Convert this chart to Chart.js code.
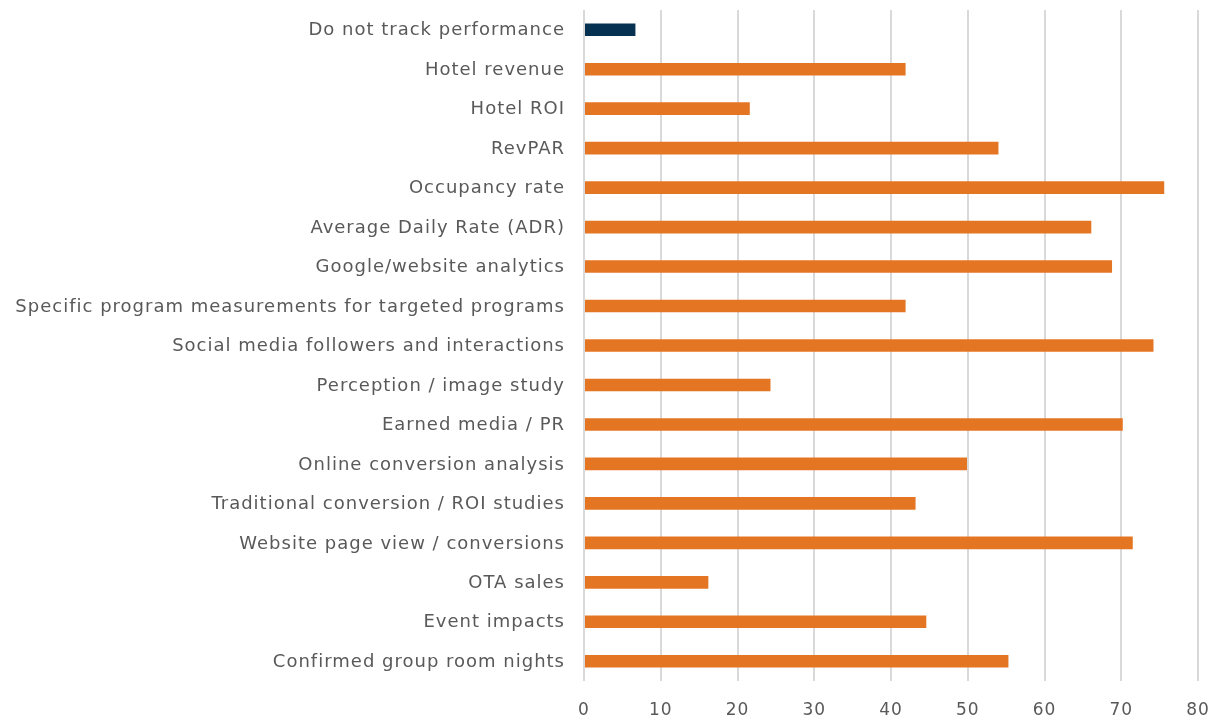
<!DOCTYPE html>
<html>
<head>
<meta charset="utf-8">
<script src="https://cdn.jsdelivr.net/npm/chart.js@4.4.1/dist/chart.umd.min.js"></script>
<style>
html,body{margin:0;padding:0;background:#fff;}
#wrap{width:1220px;height:717px;position:relative;}
</style>
</head>
<body>
<div id="wrap"><canvas id="c" width="1220" height="717"></canvas></div>
<script>
const categories = [
  "Do not track performance",
  "Hotel revenue",
  "Hotel ROI",
  "RevPAR",
  "Occupancy rate",
  "Average Daily Rate (ADR)",
  "Google/website analytics",
  "Specific program measurements for targeted programs",
  "Social media followers and interactions",
  "Perception / image study",
  "Earned media / PR",
  "Online conversion analysis",
  "Traditional conversion / ROI studies",
  "Website page view / conversions",
  "OTA sales",
  "Event impacts",
  "Confirmed group room nights"
];
const values = [6.7, 41.9, 21.6, 54.0, 75.6, 66.1, 68.8, 41.9, 74.2, 24.3, 70.2, 49.9, 43.2, 71.5, 16.2, 44.6, 55.3];
const xTicks = [0, 10, 20, 30, 40, 50, 60, 70, 80];
const orange = "#E47623";
const navy = "#063150";
const barColors = categories.map((c, i) => i === 0 ? navy : orange);

const spacingPlugin = {
  id: "spacing",
  beforeDraw(chart) { chart.ctx.letterSpacing = "1px"; }
};

function noPad(s) { s.paddingTop = 0; s.paddingBottom = 0; s.paddingLeft = 0; s.paddingRight = 0; }

new Chart(document.getElementById("c"), {
  type: "bar",
  data: {
    labels: categories,
    datasets: [{
      data: values,
      backgroundColor: barColors,
      borderWidth: 0,
      barPercentage: 0.64,
      categoryPercentage: 0.5
    }]
  },
  plugins: [spacingPlugin],
  options: {
    indexAxis: "y",
    responsive: false,
    animation: false,
    layout: { padding: { top: 10, right: 22, left: 0, bottom: 0 } },
    plugins: { legend: { display: false }, tooltip: { enabled: false } },
    scales: {
      x: {
        min: xTicks[0],
        max: xTicks[xTicks.length - 1],
        afterBuildTicks: s => { s.ticks = xTicks.map(v => ({ value: v })); },
        afterFit: s => { s.height = 36; noPad(s); },
        grid: { color: "#d9d9d9", lineWidth: 2, drawTicks: false },
        border: { display: false },
        ticks: { padding: 19, color: "#595959", font: { family: "DejaVu Sans", size: 17 } }
      },
      y: {
        afterFit: s => { s.width = 584; noPad(s); },
        grid: { display: false, drawTicks: false },
        border: { display: false },
        ticks: { padding: 19, labelOffset: 1, color: "#595959", autoSkip: false, font: { family: "DejaVu Sans", size: 18 } }
      }
    }
  }
});
</script>
</body>
</html>
